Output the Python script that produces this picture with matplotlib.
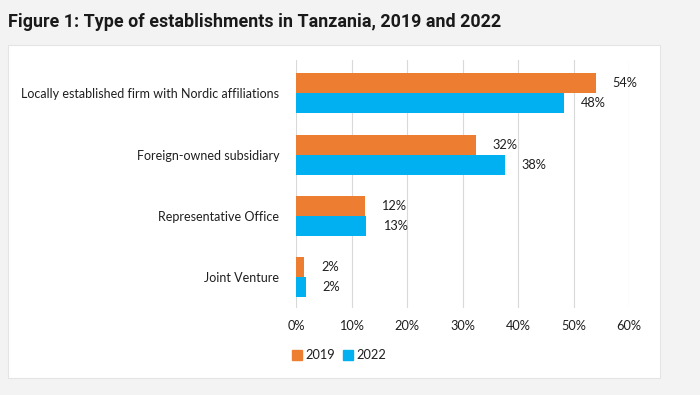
import numpy as np
import matplotlib
matplotlib.use("Agg")
import matplotlib.pyplot as plt
from matplotlib.patches import Rectangle
from matplotlib.lines import Line2D

# data
categories = [
    "Locally established firm with Nordic affiliations",
    "Foreign-owned subsidiary",
    "Representative Office",
    "Joint Venture",
]
values_2019 = [54.0, 32.4, 12.4, 1.5]
values_2022 = [48.3, 37.7, 12.6, 1.8]
labels_2019 = ["54%", "32%", "12%", "2%"]
labels_2022 = ["48%", "38%", "13%", "2%"]
xticks = [0, 10, 20, 30, 40, 50, 60]

orange = "#ED7D31"
blue = "#00B0F0"
text_col = "#1f1f1f"

plt.rcParams["font.family"] = ["Lato", "DejaVu Sans"]

fig = plt.figure(figsize=(7, 3.95), dpi=100, facecolor="#f3f3f3")

# white card behind the chart
card = Rectangle((8 / 700, 1 - 378 / 395), (660 - 8) / 700, (378 - 45) / 395,
                 transform=fig.transFigure, facecolor="white",
                 edgecolor="#e4e4e4", linewidth=0.8, zorder=-5)
fig.patches.append(card)

fig.text(8 / 700, 1 - 22 / 395,
         "Figure 1: Type of establishments in Tanzania, 2019 and 2022",
         fontsize=12.9, fontweight="bold", color="#1a1a1a",
         family=["Roboto", "DejaVu Sans"], va="center", ha="left")

ax = fig.add_axes([296 / 700, 1 - 308 / 395, (629 - 296) / 700, 248 / 395])
ax.set_zorder(2)
ax.set_facecolor("none")

y = np.arange(len(categories))
h = 0.326
ax.barh(y - h / 2, values_2019, height=h, color=orange, zorder=3)
ax.barh(y + h / 2, values_2022, height=h, color=blue, zorder=3)

for i in range(len(categories)):
    ax.annotate(labels_2019[i], (values_2019[i], y[i] - h / 2),
                xytext=(12, 0), textcoords="offset points",
                va="center", ha="left", fontsize=9.2, color=text_col)
    ax.annotate(labels_2022[i], (values_2022[i], y[i] + h / 2),
                xytext=(12, 0), textcoords="offset points",
                va="center", ha="left", fontsize=9.2, color=text_col)

ax.set_xlim(0, 60)
ax.set_ylim(3.5, -0.54)
ax.set_xticks(xticks)
ax.set_xticklabels([f"{t}%" for t in xticks], fontsize=9.2, color=text_col)
ax.set_yticks(y)
ax.set_yticklabels(categories, fontsize=9, color=text_col)
ax.tick_params(length=0)
ax.tick_params(axis="x", pad=9)
ax.tick_params(axis="y", pad=12)
ax.grid(axis="x", color="#d9d9d9", linewidth=0.8, zorder=0)
for s in ax.spines.values():
    s.set_visible(False)

handles = [
    Line2D([], [], marker="s", linestyle="none", markersize=6.5,
           markerfacecolor=orange, markeredgecolor=orange),
    Line2D([], [], marker="s", linestyle="none", markersize=6.5,
           markerfacecolor=blue, markeredgecolor=blue),
]
fig.legend(handles, ["2019", "2022"], loc="center left",
           bbox_to_anchor=(281 / 700, 1 - 355 / 395), ncol=2, frameon=False,
           fontsize=9.2, handlelength=0.7, handletextpad=0.3,
           columnspacing=0.7, labelcolor=text_col)

fig.savefig("out.png", dpi=100, facecolor=fig.get_facecolor())
